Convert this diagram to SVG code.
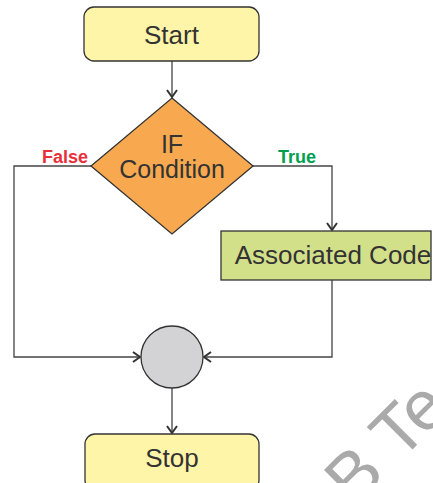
<svg xmlns="http://www.w3.org/2000/svg" width="433" height="483" viewBox="0 0 433 483">
<defs>
<style>
.ln{fill:none;stroke:#444;stroke-width:1.3}
.nd{stroke:#333;stroke-width:1.3}
.t{font-family:"Liberation Sans",Arial,sans-serif;font-size:26px;fill:#333;text-anchor:middle}
.lb{font-family:"Liberation Sans",Arial,sans-serif;font-size:18px;font-weight:bold;text-anchor:middle}
</style>
<marker id="ar" viewBox="0 0 10 12" markerWidth="10" markerHeight="12" refX="9" refY="6" orient="auto" markerUnits="userSpaceOnUse">
<path d="M2,1 L9,6 L2,11" fill="none" stroke="#333" stroke-width="2"/>
</marker>
</defs>
<rect width="433" height="483" fill="#fff"/>
<text x="354" y="508" transform="rotate(-45 354 508)" font-family="Liberation Sans,Arial,sans-serif" font-size="70" fill="#aaa">B Te</text>
<g id="connectors">
<path class="ln" d="M172,61 V97" marker-end="url(#ar)"/>
<path class="ln" d="M91,166 H14 V357 H140" marker-end="url(#ar)"/>
<path class="ln" d="M253,166 H332 V230" marker-end="url(#ar)"/>
<path class="ln" d="M332,280 V357 H204" marker-end="url(#ar)"/>
<path class="ln" d="M172,388 V433" marker-end="url(#ar)"/>
<text class="lb" x="65" y="163" fill="#e8303a">False</text>
<text class="lb" x="297" y="163" fill="#00a050">True</text>
</g>
<g id="start">
<rect class="nd" x="84" y="7" width="175" height="54" rx="10" fill="#fff5a8"/>
<text class="t" x="171.5" y="44">Start</text>
</g>
<g id="condition">
<polygon class="nd" points="172,98 253,166 172,234 91,166" fill="#f8a94f"/>
<text class="t" x="172" y="153" style="font-size:25px">IF</text>
<text class="t" x="172" y="178" style="font-size:25px">Condition</text>
</g>
<g id="code">
<rect class="nd" x="221" y="231" width="210" height="49" fill="#d3e08a"/>
<text class="t" x="333" y="264">Associated Code</text>
</g>
<g id="merge">
<circle class="nd" cx="172" cy="357" r="31" fill="#d3d3d5"/>
</g>
<g id="stop">
<rect class="nd" x="85" y="434" width="174" height="56" rx="10" fill="#fff5a8"/>
<text class="t" x="172" y="467">Stop</text>
</g>
</svg>
